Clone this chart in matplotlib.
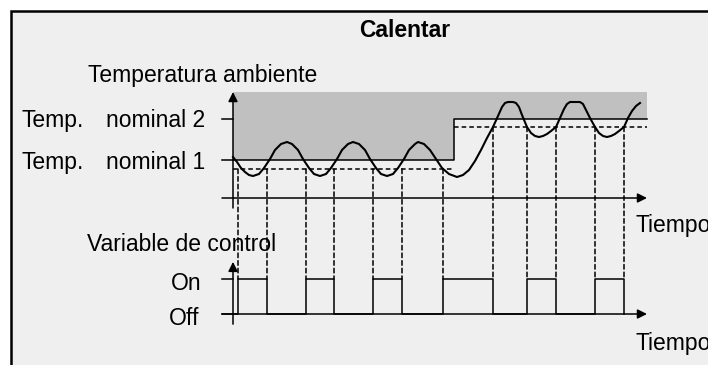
import matplotlib.pyplot as plt
from matplotlib.patches import Rectangle, ConnectionPatch

plt.rcParams['font.family'] = ['Liberation Sans', 'DejaVu Sans']

W, H = 708, 365

# room temperature curve (time units / temperature units)
curve_t = [0, 4, 8, 12, 16, 20,
           26, 31, 37, 42, 48, 54, 59, 65, 70, 76, 81, 87,
           93, 98, 104, 109, 115, 120, 126, 132, 137, 143, 148, 154,
           160, 165, 171, 176, 182, 185, 191, 197, 203, 209, 216, 224,
           230, 236, 242, 248, 254, 260, 265, 269, 272, 275, 280, 283, 286, 289,
           294, 298, 302, 306, 310, 314, 318, 323, 327, 331, 334, 337, 347, 350,
           353, 357, 362, 366, 370, 374, 378, 382, 386, 391, 395, 399, 403, 407]
curve_T = [41, 36, 30, 26, 23, 22,
           24, 30, 39, 48, 54, 56, 54, 48, 39, 30, 24, 22,
           24, 30, 39, 48, 54, 56, 54, 48, 39, 30, 24, 22,
           24, 30, 39, 48, 54, 56, 54, 48, 39, 30, 24, 21,
           23, 28, 37, 48, 60, 71, 82, 91, 95, 96, 96, 95, 91, 83,
           71, 65, 62, 61, 62, 64, 67, 71, 80, 89, 94, 96, 96, 94,
           88, 80, 71, 65, 62, 61, 62, 64, 67, 71, 80, 87, 92, 95]

# setpoints (nominal 1 -> nominal 2), lower hysteresis limits, dead zone top
sp_t = [0, 221, 414]
sp_T = [38, 79, 79]
hyst_T = [29, 71]
zone_top = 106
t_end = 414

# heating on intervals
on_start = [5, 73, 140, 210, 294, 362]
on_end = [34, 101, 169, 260, 323, 391]
ON, OFF = 1, 0

bg_col = '#efefef'
zone_col = '#c0c0c0'
dash = (0, (3, 2))

fig = plt.figure(figsize=(W / 100, H / 100), dpi=100)
fig.patch.set_facecolor('white')

# background / frame axes in pixel coordinates
bg = fig.add_axes([0, 0, 1, 1])
bg.set_xlim(0, W)
bg.set_ylim(H, 0)
bg.axis('off')
bg.add_patch(Rectangle((11, 11), 720, 380, facecolor=bg_col, edgecolor='black', lw=1.8))

# temperature panel
ax_t = fig.add_axes([218 / W, (H - 218) / H, 435 / W, 130 / H])
ax_t.set_xlim(-15, 420)
ax_t.set_ylim(-20, 110)
ax_t.axis('off')
ax_t.patch.set_alpha(0)

ax_t.fill_between(sp_t, sp_T, zone_top, step='post', color=zone_col, lw=0)
ax_t.step(sp_t, sp_T, where='post', color='black', lw=1.1)
ax_t.plot([0, sp_t[1]], [hyst_T[0]] * 2, color='black', lw=1.1, ls=dash)
ax_t.plot([sp_t[1], t_end], [hyst_T[1]] * 2, color='black', lw=1.1, ls=dash)
for v in sp_T[:2]:
    ax_t.plot([-11, 0], [v, v], color='black', lw=1.1)
ax_t.plot(curve_t, curve_T, color='black', lw=1.5, solid_joinstyle='round')

arrow = dict(arrowstyle='-|>', color='black', lw=1.1, mutation_scale=14, shrinkA=0, shrinkB=0)
ax_t.annotate('', xy=(0, zone_top), xytext=(0, -10), arrowprops=arrow)
ax_t.annotate('', xy=(t_end, 0), xytext=(-11, 0), arrowprops=arrow)

# control variable panel
ax_c = fig.add_axes([218 / W, 25 / H, 435 / W, 122 / H])
ax_c.set_xlim(-15, 420)
ax_c.set_ylim(-0.743, 2.743)
ax_c.axis('off')
ax_c.patch.set_alpha(0)

sig_t, sig_v = [0], [OFF]
for a, b in zip(on_start, on_end):
    sig_t += [a, a, b, b]
    sig_v += [OFF, ON, ON, OFF]
ax_c.plot(sig_t, sig_v, color='black', lw=1.1)
for v in (ON, OFF):
    ax_c.plot([-11, 0], [v, v], color='black', lw=1.1)
ax_c.annotate('', xy=(0, 1.49), xytext=(0, -0.29), arrowprops=arrow)
ax_c.annotate('', xy=(t_end, OFF), xytext=(-11, OFF), arrowprops=arrow)

# dashed links between switching instants and the control signal
for t in on_start + on_end:
    lvl = hyst_T[0] if t < sp_t[1] else hyst_T[1]
    con = ConnectionPatch(xyA=(t, lvl), coordsA=ax_t.transData,
                          xyB=(t, ON), coordsB=ax_c.transData,
                          color='black', lw=1.1, ls=dash)
    fig.add_artist(con)

# texts
fs = 16.5
bg.text(405, 37, 'Calentar', fontsize=fs, fontweight='bold', ha='center', va='baseline')
bg.text(88, 82, 'Temperatura ambiente', fontsize=fs, va='baseline')
bg.text(22, 127, 'Temp.', fontsize=fs, va='baseline')
bg.text(205, 127, 'nominal 2', fontsize=fs, ha='right', va='baseline')
bg.text(22, 169, 'Temp.', fontsize=fs, va='baseline')
bg.text(205, 169, 'nominal 1', fontsize=fs, ha='right', va='baseline')
bg.text(293, 123, 'Zona muerta', fontsize=fs, va='baseline')
bg.text(636, 232, 'Tiempo', fontsize=fs, va='baseline')
bg.text(87, 251, 'Variable de control', fontsize=fs, va='baseline')
bg.text(201, 290, 'On', fontsize=fs, ha='right', va='baseline')
bg.text(199, 325, 'Off', fontsize=fs, ha='right', va='baseline')
bg.text(636, 350, 'Tiempo', fontsize=fs, va='baseline')

fig.savefig('out.png', dpi=100)
